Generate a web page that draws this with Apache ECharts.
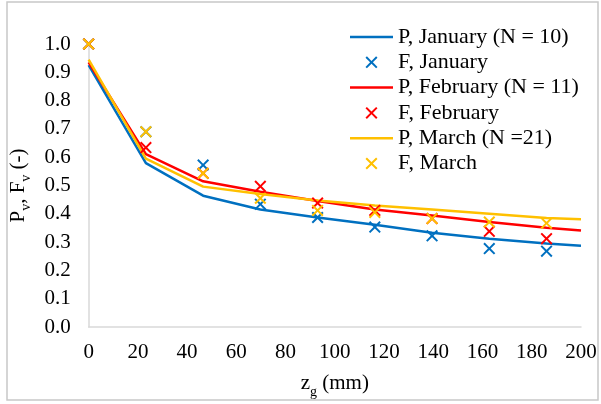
<!DOCTYPE html>
<html>
<head>
<meta charset="utf-8">
<script src="https://cdn.jsdelivr.net/npm/echarts@6/dist/echarts.min.js"></script>
<style>
html,body{margin:0;padding:0;background:#fff;}
#chart{width:601px;height:404px;}
</style>
</head>
<body>
<div id="chart"></div>
<script>
// Model (P) curves, evaluated at these depths (mm)
var zP = [0, 23.25, 46.5, 69.75, 93, 116.25, 139.5, 162.75, 186, 200];
var pJan = [0.925, 0.579, 0.464, 0.415, 0.387, 0.361, 0.333, 0.312, 0.295, 0.287];
var pFeb = [0.935, 0.611, 0.515, 0.478, 0.445, 0.415, 0.394, 0.371, 0.351, 0.341];
var pMar = [0.945, 0.595, 0.496, 0.470, 0.447, 0.429, 0.415, 0.400, 0.385, 0.381];

// Measured (F) points
var zF = [0, 23.25, 46.5, 69.75, 93, 116.25, 139.5, 162.75, 186];
var fJan = [1.0, 0.690, 0.572, 0.434, 0.387, 0.353, 0.322, 0.277, 0.268];
var fFeb = [1.0, 0.634, 0.543, 0.497, 0.438, 0.412, 0.383, 0.338, 0.312];
var fMar = [1.0, 0.690, 0.543, 0.455, 0.412, 0.405, 0.383, 0.371, 0.367];

var seriesNames = ['P, January (N = 10)', 'F, January', 'P, February (N = 11)', 'F, February', 'P, March (N =21)', 'F, March'];
var xTicks = {min: 0, max: 200, interval: 20};
var yTicks = {min: 0, max: 1, interval: 0.1};

var cBlue = '#0070C0', cRed = '#FF0000', cYellow = '#FFC000';
var xPath = 'path://M0,1.4L1.4,0L6,4.6L10.6,0L12,1.4L7.4,6L12,10.6L10.6,12L6,7.4L1.4,12L0,10.6L4.6,6Z';
var linePath = 'path://M0,0L43,0L43,2.5L0,2.5Z';
var FONT = '"Liberation Serif", "Times New Roman", serif';

function pairs(xs, ys) { return xs.map(function (x, i) { return [x, ys[i]]; }); }

function lineSeries(name, ys, color) {
  return {
    name: name, type: 'line', data: pairs(zP, ys),
    symbol: 'none', showSymbol: false, smooth: false,
    lineStyle: {color: color, width: 2.5}, itemStyle: {color: color},
    z: 2, animation: false
  };
}
function scatterSeries(name, ys, color) {
  return {
    name: name, type: 'scatter', data: pairs(zF, ys),
    symbol: xPath, symbolSize: 12,
    itemStyle: {color: color, opacity: 1}, z: 3, animation: false
  };
}

var chart = echarts.init(document.getElementById('chart'), null, {renderer: 'canvas'});
chart.setOption({
  backgroundColor: '#fff',
  animation: false,
  textStyle: {fontFamily: FONT, color: '#000'},
  graphic: [{
    type: 'rect', shape: {x: 7, y: 2, width: 591, height: 398},
    style: {fill: 'none', stroke: '#c8c8c8', lineWidth: 1.5}, z: -1, silent: true
  }],
  grid: {left: 88, right: 20, top: 44, bottom: 75, containLabel: false},
  legend: {
    orient: 'vertical', left: 350, top: 26, padding: 0,
    itemWidth: 43, itemHeight: 12, itemGap: 3.3,
    data: [
      {name: seriesNames[0], icon: linePath, itemStyle: {color: cBlue}},
      {name: seriesNames[1]},
      {name: seriesNames[2], icon: linePath, itemStyle: {color: cRed}},
      {name: seriesNames[3]},
      {name: seriesNames[4], icon: linePath, itemStyle: {color: cYellow}},
      {name: seriesNames[5]}
    ],
    textStyle: {fontFamily: FONT, fontSize: 22, color: '#000', lineHeight: 22, padding: [0, 0, 0, 0]}
  },
  xAxis: {
    type: 'value', min: xTicks.min, max: xTicks.max, interval: xTicks.interval,
    name: '{a|z}{s|g}{a| (mm)}', nameLocation: 'middle', nameGap: 44,
    nameTextStyle: {
      rich: {
        a: {fontFamily: FONT, fontSize: 21, color: '#000', lineHeight: 24},
        s: {fontFamily: FONT, fontSize: 14, color: '#000', lineHeight: 14, verticalAlign: 'bottom', padding: [0, 0, -4, 0]}
      }
    },
    axisLine: {show: true, lineStyle: {color: '#d9d9d9', width: 1.5}},
    axisTick: {show: false},
    splitLine: {show: false},
    axisLabel: {fontFamily: FONT, fontSize: 21, color: '#000', margin: 15}
  },
  yAxis: {
    type: 'value', min: yTicks.min, max: yTicks.max, interval: yTicks.interval,
    name: '{a|P}{s|v}{a|, F}{s|v}{a| (-)}', nameLocation: 'middle', nameGap: 52, nameRotate: 90,
    nameTextStyle: {
      rich: {
        a: {fontFamily: FONT, fontSize: 21, color: '#000', lineHeight: 24},
        s: {fontFamily: FONT, fontSize: 14, color: '#000', lineHeight: 14, verticalAlign: 'bottom', padding: [0, 0, -3, 0]}
      }
    },
    axisLine: {show: true, lineStyle: {color: '#d9d9d9', width: 1.5}},
    axisTick: {show: false},
    splitLine: {show: false},
    axisLabel: {fontFamily: FONT, fontSize: 21, color: '#000', margin: 18,
      formatter: function (v) { return v.toFixed(1); }}
  },
  series: [
    lineSeries(seriesNames[0], pJan, cBlue),
    lineSeries(seriesNames[2], pFeb, cRed),
    lineSeries(seriesNames[4], pMar, cYellow),
    scatterSeries(seriesNames[1], fJan, cBlue),
    scatterSeries(seriesNames[3], fFeb, cRed),
    scatterSeries(seriesNames[5], fMar, cYellow)
  ]
});
</script>
</body>
</html>
